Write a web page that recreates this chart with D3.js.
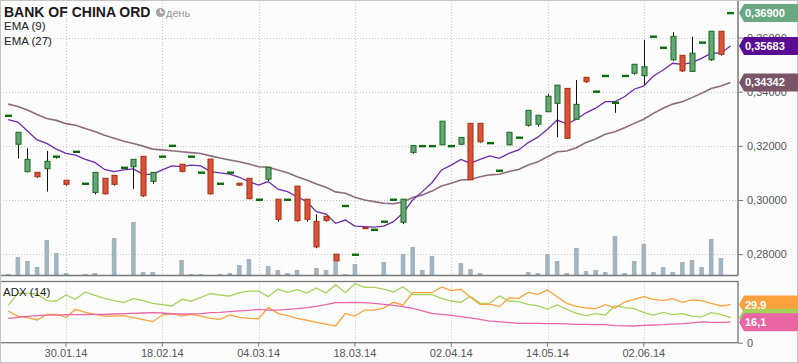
<!DOCTYPE html>
<html lang="ru">
<head>
<meta charset="utf-8">
<title>BANK OF CHINA ORD</title>
<style>
  body { margin: 0; background: #fcfcfc; }
  svg { display: block; font-family: "Liberation Sans", Arial, sans-serif; }
</style>
</head>
<body>
<script src="https://cdn.jsdelivr.net/npm/d3@7"></script>
<script>
"use strict";

// one entry per session
const openPrices = [
  .3311, .3206, .3105, .3102, .3116, .3160, .3073, .3178, .3060, .3028,
  .3080, .3091, .3119, .3123, .3161, .3069, .3160, .3200, .3132, .3160,
  .3101, .3151, .3060, .3101, .3062, .3080, .3001, .3077, .3003, .3001,
  .3051, .3003, .2921, .2940, .2800, .2978, .2798, .2898, .2890, .2920,
  .3001, .2918, .3176, .3199, .3199, .3204, .3199, .3206, .3283, .3283,
  .3210, .3108, .3204, .3230, .3276, .3280, .3326, .3357, .3412, .3298,
  .3453, .3400, .3458, .3359, .3458, .3468, .3459, .3603, .3562, .3518,
  .3534, .3475, .3581, .3518, .3623, .3690];
const highPrices = [
  .3311, .3250, .3191, .3102, .3181, .3160, .3073, .3178, .3060, .3102,
  .3080, .3091, .3119, .3150, .3161, .3102, .3160, .3200, .3132, .3160,
  .3101, .3151, .3060, .3101, .3062, .3080, .3001, .3121, .3003, .3001,
  .3051, .3003, .2947, .2940, .2800, .2978, .2798, .2898, .2890, .2920,
  .3001, .3003, .3201, .3199, .3199, .3291, .3199, .3231, .3283, .3283,
  .3210, .3108, .3250, .3230, .3331, .3313, .3391, .3424, .3412, .3443,
  .3453, .3400, .3458, .3359, .3458, .3501, .3591, .3603, .3562, .3620,
  .3534, .3603, .3581, .3623, .3623, .3690];
const lowPrices = [
  .3311, .3153, .3102, .3082, .3031, .3153, .3053, .3178, .3060, .3021,
  .3021, .3053, .3119, .3041, .3012, .3060, .3160, .3200, .3102, .3160,
  .3101, .3020, .3060, .3101, .3052, .3003, .3001, .3070, .2920, .3001,
  .2920, .2920, .2822, .2920, .2775, .2978, .2798, .2893, .2890, .2920,
  .3001, .2911, .3171, .3199, .3199, .3202, .3199, .3202, .3075, .3212,
  .3210, .3108, .3202, .3230, .3271, .3271, .3326, .3232, .3225, .3298,
  .3433, .3400, .3458, .3322, .3458, .3463, .3425, .3603, .3562, .3513,
  .3473, .3475, .3581, .3514, .3533, .3690];
const closePrices = [
  .3311, .3250, .3150, .3086, .3143, .3160, .3058, .3178, .3060, .3102,
  .3023, .3058, .3119, .3150, .3016, .3102, .3160, .3200, .3106, .3160,
  .3101, .3023, .3060, .3101, .3055, .3005, .3001, .3121, .2929, .3001,
  .2924, .2929, .2827, .2925, .2775, .2978, .2798, .2895, .2890, .2920,
  .3001, .3003, .3201, .3199, .3199, .3291, .3199, .3231, .3075, .3215,
  .3210, .3108, .3250, .3230, .3331, .3313, .3383, .3424, .3228, .3353,
  .3437, .3400, .3458, .3359, .3458, .3501, .3492, .3603, .3562, .3604,
  .3477, .3542, .3581, .3623, .3538, .3690];
// thousand lots
const volumes = [
  1, 18, 14, 8, 35, 22, 2, 0, 1, 2,
  0, 37, 0, 53, 3, 3, 0, 0, 15, 1,
  1, 0, 1, 2, 10, 16, 0, 9, 5, 2,
  5, 0, 7, 5, 13, 1, 11, 0, 0, 13,
  0, 21, 28, 5, 19, 0, 0, 12, 6, 2,
  0, 0, 0, 0, 3, 2, 21, 14, 2, 27,
  4, 5, 3, 39, 2, 14, 31, 3, 8, 3,
  13, 15, 8, 36, 17, 0];
const ema9 = [
  .3297, .3288, .3255, .3222, .3209, .3188, .3172, .3166, .3150, .3139,
  .3113, .3105, .3111, .3115, .3095, .3095, .3111, .3126, .3123, .3129,
  .3126, .3105, .3100, .3096, .3084, .3068, .3055, .3068, .3040, .3031,
  .3012, .2994, .2957, .2948, .2914, .2926, .2904, .2902, .2900, .2904,
  .2920, .2952, .3000, .3031, .3064, .3111, .3129, .3150, .3136, .3150,
  .3163, .3154, .3172, .3185, .3212, .3232, .3261, .3295, .3281, .3298,
  .3322, .3339, .3363, .3363, .3381, .3409, .3421, .3458, .3480, .3505,
  .3501, .3507, .3523, .3542, .3542, .35683];
const ema27 = [
  .3354, .3345, .3332, .3316, .3301, .3294, .3282, .3276, .3264, .3253,
  .3239, .3228, .3217, .3209, .3199, .3188, .3185, .3182, .3178, .3175,
  .3172, .3163, .3155, .3148, .3141, .3133, .3123, .3121, .3111, .3101,
  .3086, .3074, .3059, .3047, .3030, .3025, .3010, .3000, .2994, .2988,
  .2986, .2993, .3009, .3019, .3033, .3052, .3062, .3074, .3076, .3086,
  .3093, .3095, .3105, .3113, .3129, .3141, .3160, .3178, .3181, .3193,
  .3212, .3225, .3243, .3252, .3267, .3283, .3298, .3320, .3339, .3354,
  .3363, .3378, .3394, .3412, .3421, .34342];
const adx = [
  29.3, 38.7, 38.7, 38.2, 33.0, 32.7, 37.4, 34.0, 39.8, 37.2,
  34.8, 33.0, 31.4, 34.8, 33.0, 30.9, 29.8, 28.8, 34.0, 32.7,
  35.6, 38.5, 37.4, 36.6, 39.2, 40.5, 40.5, 36.1, 42.1, 39.5,
  41.6, 39.0, 42.9, 39.0, 45.5, 39.2, 46.3, 43.4, 43.4, 42.1,
  39.8, 43.9, 37.7, 37.7, 37.7, 34.8, 32.7, 31.7, 36.4, 30.9,
  31.0, 36.6, 32.7, 32.2, 30.1, 28.8, 26.4, 29.6, 26.2, 23.0,
  21.2, 22.8, 21.7, 29.0, 27.5, 26.7, 23.6, 21.7, 23.8, 22.0,
  22.8, 20.9, 20.2, 23.6, 22.2, 19.6];
const diPlus = [
  24.9, 20.9, 19.6, 17.8, 22.2, 22.2, 19.9, 26.2, 23.8, 22.2,
  20.9, 20.9, 21.2, 19.6, 18.1, 16.5, 21.7, 23.0, 20.9, 22.2,
  20.9, 19.1, 18.3, 21.7, 19.9, 19.1, 18.8, 27.7, 23.0, 21.2,
  19.1, 17.6, 16.0, 14.6, 13.1, 23.0, 20.9, 25.6, 25.6, 27.2,
  31.7, 29.6, 39.2, 39.2, 39.2, 43.7, 40.8, 41.9, 35.6, 30.1,
  30.2, 28.3, 35.1, 34.8, 39.5, 37.9, 41.3, 36.1, 30.9, 28.5,
  27.2, 26.7, 29.8, 27.2, 31.9, 34.0, 36.1, 34.0, 33.0, 34.5,
  31.7, 33.5, 33.0, 30.9, 28.8, 29.9];
const diMinus = [
  19.1, 19.9, 20.7, 21.2, 21.7, 21.7, 22.0, 22.0, 22.0, 22.2,
  22.2, 22.5, 22.8, 23.0, 23.3, 23.6, 23.3, 22.5, 22.5, 22.5,
  22.8, 23.6, 23.8, 24.3, 24.9, 25.4, 26.2, 25.6, 25.6, 26.2,
  26.7, 27.5, 28.5, 29.8, 31.4, 31.4, 31.7, 31.4, 30.9, 30.1,
  29.3, 28.3, 27.0, 24.9, 23.0, 22.2, 21.5, 20.4, 19.4, 18.3,
  17.0, 16.5, 15.8, 15.2, 15.2, 15.2, 15.0, 14.9, 14.7, 14.4,
  14.3, 14.1, 14.1, 13.4, 13.2, 13.1, 13.6, 13.9, 14.1, 14.5,
  14.9, 15.5, 16.3, 16.0, 16.0, 16.1];

const tickIndex = [6, 16, 26, 36, 46, 56, 66];
const tickLabels = ["30.01.14", "18.02.14", "04.03.14", "18.03.14", "02.04.14", "14.05.14", "02.06.14"];
const priceTicks = [0.28, 0.30, 0.32, 0.34, 0.36];

const width = 798;
const height = 363;
const plotRight = 738;
const mainBottom = 275.5;
const adxTop = 281.5;
const adxBottom = 342.7;

const x = d3.scaleBand().domain(d3.range(closePrices.length)).range([3.4, 735.3]);
const cx = (i) => x(i) + x.bandwidth() / 2;
const y = d3.scaleLinear().domain([0.28, 0.36]).range([254.2, 37.5]);
const yVol = d3.scaleLinear().domain([0, 60]).range([275, 215]);
const yAdx = d3.scaleLinear().domain([0, 48]).range([adxBottom, adxTop]);
const commaFmt = (spec) => (d) => d3.format(spec)(d).replace(".", ",");

const svg = d3.select("body").append("svg")
  .attr("width", width)
  .attr("height", height);

svg.append("rect").attr("width", width).attr("height", height).attr("fill", "#fcfcfc");

// grid: dotted, both panels
const grid = svg.append("g")
  .attr("stroke", "#c9c9c9")
  .attr("stroke-dasharray", "1,2");
grid.selectAll("line.h").data(priceTicks).join("line")
  .attr("class", "h")
  .attr("x1", 0).attr("x2", plotRight)
  .attr("y1", (d) => Math.round(y(d)) + 0.5).attr("y2", (d) => Math.round(y(d)) + 0.5);
grid.selectAll("line.v").data(tickIndex).join("line")
  .attr("class", "v")
  .attr("x1", (d) => Math.round(cx(d)) + 0.5).attr("x2", (d) => Math.round(cx(d)) + 0.5)
  .attr("y1", 0).attr("y2", mainBottom);
grid.selectAll("line.va").data(tickIndex).join("line")
  .attr("class", "va")
  .attr("x1", (d) => Math.round(cx(d)) + 0.5).attr("x2", (d) => Math.round(cx(d)) + 0.5)
  .attr("y1", adxTop).attr("y2", adxBottom);

const idx = d3.range(closePrices.length);

// volume
svg.append("g").attr("fill", "#a3b4c1")
  .selectAll("rect").data(idx.filter((i) => volumes[i] > 0)).join("rect")
  .attr("x", (i) => cx(i) - 2.3)
  .attr("width", 4.6)
  .attr("y", (i) => yVol(volumes[i]))
  .attr("height", (i) => yVol(0) - yVol(volumes[i]));

// moving averages
const priceLine = (arr) => d3.line().x((d, i) => cx(i)).y((d) => y(d))(arr);
svg.append("path").attr("d", priceLine(ema27))
  .attr("fill", "none").attr("stroke", "#8d6b7d").attr("stroke-width", 1.6);
svg.append("path").attr("d", priceLine(ema9))
  .attr("fill", "none").attr("stroke", "#6e2aa8").attr("stroke-width", 1.3);

// candles
const flat = (i) => openPrices[i] === closePrices[i];
const candles = svg.append("g");
candles.selectAll("line").data(idx.filter((i) => highPrices[i] !== lowPrices[i])).join("line")
  .attr("x1", (i) => Math.round(cx(i)) + 0.5).attr("x2", (i) => Math.round(cx(i)) + 0.5)
  .attr("y1", (i) => y(highPrices[i])).attr("y2", (i) => y(lowPrices[i]))
  .attr("stroke", "#111").attr("stroke-width", 1);
candles.selectAll("rect.body").data(idx.filter((i) => !flat(i))).join("rect")
  .attr("class", "body")
  .attr("x", (i) => Math.round(cx(i)) - 2)
  .attr("width", 5)
  .attr("y", (i) => y(Math.max(openPrices[i], closePrices[i])))
  .attr("height", (i) => Math.max(1, Math.abs(y(openPrices[i]) - y(closePrices[i]))))
  .attr("fill", (i) => closePrices[i] > openPrices[i] ? "#68a57c" : "#d9523d")
  .attr("stroke", (i) => closePrices[i] > openPrices[i] ? "#1d7420" : "#a8350f")
  .attr("stroke-width", 1.1);
candles.selectAll("rect.dash").data(idx.filter(flat)).join("rect")
  .attr("class", "dash")
  .attr("x", (i) => Math.round(cx(i)) - 3)
  .attr("width", 7)
  .attr("y", (i) => y(closePrices[i]) - 1.2)
  .attr("height", 2.4)
  .attr("fill", "#0c6b0c");

// ADX panel lines
const adxLine = (arr) => d3.line().x((d, i) => cx(i)).y((d) => yAdx(d))(arr);
[[adx, "#a6d25c"], [diPlus, "#fba23c"], [diMinus, "#e965a6"]].forEach(([arr, col]) => {
  svg.append("path").attr("d", adxLine(arr))
    .attr("fill", "none").attr("stroke", col).attr("stroke-width", 1.3);
});

// frames
const frame = svg.append("g").attr("stroke", "#777").attr("fill", "none");
frame.append("line").attr("x1", plotRight).attr("x2", plotRight).attr("y1", 0).attr("y2", mainBottom).attr("stroke-width", 1.5);
frame.append("line").attr("x1", 0).attr("x2", plotRight).attr("y1", mainBottom).attr("y2", mainBottom).attr("stroke-width", 1.3);
frame.append("rect").attr("x", -1).attr("y", adxTop).attr("width", plotRight + 1).attr("height", adxBottom - adxTop).attr("stroke-width", 1.3);
svg.append("rect").attr("x", 0.5).attr("y", 0.5).attr("width", width - 1).attr("height", height - 1)
  .attr("fill", "none").attr("stroke", "#c4c4c4");

// axes
const styleAxis = (g) => {
  g.select(".domain").remove();
  g.selectAll(".tick line").attr("stroke", "#777");
  g.selectAll(".tick text").attr("fill", "#555").attr("font-size", 11).attr("font-family", "Liberation Sans, Arial, sans-serif");
};
svg.append("g").attr("transform", `translate(${plotRight},0)`)
  .call(d3.axisRight(y).tickValues(priceTicks).tickFormat(commaFmt(".5f")).tickSize(5).tickPadding(4))
  .call(styleAxis);
svg.append("g").attr("transform", `translate(${plotRight},0)`)
  .call(d3.axisRight(yAdx).tickValues([0]).tickSize(5).tickPadding(4))
  .call(styleAxis);
svg.append("g").attr("transform", `translate(0,${adxBottom})`)
  .call(d3.axisBottom(x).tickValues(tickIndex).tickFormat((d, k) => tickLabels[k]).tickSize(4).tickPadding(3))
  .call(styleAxis);

// value tags on the right
function addTag(yc, fill, label) {
  svg.append("path")
    .attr("d", `M${plotRight + 1},${yc} L${plotRight + 6},${yc - 9} H${width} V${yc + 9} H${plotRight + 6} Z`)
    .attr("fill", fill);
  svg.append("text")
    .attr("x", plotRight + 7)
    .attr("y", yc + 4)
    .attr("fill", "#fff")
    .attr("font-size", 11)
    .attr("font-weight", "bold")
    .text(label);
}
const last = closePrices.length - 1;
addTag(y(closePrices[last]), "#6aa884", commaFmt(".5f")(closePrices[last]));
addTag(y(ema9[last]), "#5a0d93", commaFmt(".5f")(ema9[last]));
addTag(y(ema27[last]), "#7a5567", commaFmt(".5f")(ema27[last]));
addTag(yAdx(diPlus[last]), "#fba23c", commaFmt(".1f")(diPlus[last]));
addTag(yAdx(adx[last]), "#a6d25c", commaFmt(".1f")(adx[last]));
addTag(yAdx(diMinus[last]), "#e965a6", commaFmt(".1f")(diMinus[last]));

// titles
svg.append("text").attr("x", 4).attr("y", 17.3)
  .attr("font-size", 14).attr("font-weight", "bold").attr("fill", "#1a1a1a")
  .text("BANK OF CHINA ORD");
svg.append("circle").attr("cx", 160.5).attr("cy", 12.5).attr("r", 4.6).attr("fill", "#a3a3a3");
svg.append("path").attr("d", "M160.5,12.5 V9.2 M160.5,12.5 H163.2")
  .attr("stroke", "#fff").attr("stroke-width", 1.4).attr("fill", "none");
svg.append("text").attr("x", 166).attr("y", 16.5)
  .attr("font-size", 11).attr("fill", "#999").text("день");
svg.append("text").attr("x", 4).attr("y", 30).attr("font-size", 11.5).attr("fill", "#222").text("EMA (9)");
svg.append("text").attr("x", 4).attr("y", 45).attr("font-size", 11.5).attr("fill", "#222").text("EMA (27)");
svg.append("text").attr("x", 3).attr("y", 295.7).attr("font-size", 11.5).attr("fill", "#222").text("ADX (14)");
</script>
</body>
</html>
